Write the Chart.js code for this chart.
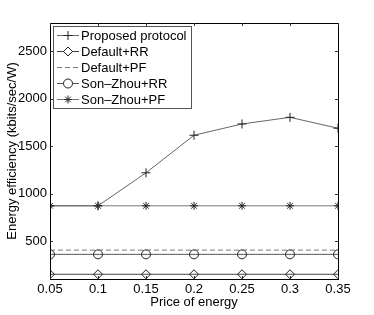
<!DOCTYPE html>
<html>
<head>
<meta charset="utf-8">
<script src="https://cdn.jsdelivr.net/npm/chart.js@4"></script>
<style>
html, body { margin: 0; padding: 0; background: #fff; }
#wrap { width: 374px; height: 315px; }
</style>
</head>
<body>
<div id="wrap"><canvas id="grafico" width="374" height="315"></canvas></div>
<script>
// dados
const precos = [0.05, 0.1, 0.15, 0.2, 0.25, 0.3, 0.35]
const proposto = [872, 872, 1220, 1616, 1735, 1805, 1690]
const defaultRR = [150, 150, 150, 150, 150, 150, 150]
const defaultPF = [405, 405, 405, 405, 405, 405, 405]
const sonZhouRR = [360, 360, 360, 360, 360, 360, 360]
const sonZhouPF = [872, 872, 872, 872, 872, 872, 872]
const yTicks = [500, 1000, 1500, 2000, 2500]

const fonte = "'Liberation Sans', Arial, sans-serif"

function pontos(vals) {
    return precos.map((x, i) => ({ x: x, y: vals[i] }))
}

// linhas, marcadores e caixa de legenda no estilo matlab
const estiloMatlab = {
    id: "estiloMatlab",
    afterDraw(chart) {
        const ctx = chart.ctx
        const a = chart.chartArea
        const xs = chart.scales.x
        const ys = chart.scales.y
        ctx.save()
        ctx.strokeStyle = "#000"
        ctx.lineWidth = 1
        // caixa
        ctx.strokeRect(Math.round(a.left) + 0.5, Math.round(a.top) + 0.5, Math.round(a.right - a.left), Math.round(a.bottom - a.top))
        // ticks para dentro
        ctx.strokeStyle = "#333"
        ctx.beginPath()
        precos.forEach(v => {
            const px = Math.round(xs.getPixelForValue(v)) + 0.5
            ctx.moveTo(px, a.bottom); ctx.lineTo(px, a.bottom - 3)
            ctx.moveTo(px, a.top); ctx.lineTo(px, a.top + 3)
        })
        yTicks.forEach(v => {
            const py = Math.round(ys.getPixelForValue(v)) + 0.5
            ctx.moveTo(a.left, py); ctx.lineTo(a.left + 3, py)
            ctx.moveTo(a.right, py); ctx.lineTo(a.right - 3, py)
        })
        ctx.stroke()

        // legenda
        const bx = 53.5, by = 26.5, bw = 138, bh = 82
        ctx.fillStyle = "#fff"
        ctx.fillRect(bx, by, bw, bh)
        ctx.strokeStyle = "#555"
        ctx.strokeRect(bx, by, bw, bh)
        ctx.font = "13px " + fonte
        ctx.textBaseline = "middle"
        chart.data.datasets.forEach((ds, i) => {
            const y = 35 + i * 16
            ctx.strokeStyle = ds.borderColor
            ctx.lineWidth = 1
            ctx.setLineDash(ds.borderDash || [])
            ctx.beginPath()
            ctx.moveTo(57, y + 0.5)
            ctx.lineTo(79, y + 0.5)
            ctx.stroke()
            ctx.setLineDash([])
            if (ds.pointStyle && ds.pointRadius > 0) {
                ctx.fillStyle = "#fff"
                ctx.strokeStyle = ds.pointBorderColor
                Chart.helpers.drawPoint(ctx, {
                    pointStyle: ds.pointStyle,
                    radius: ds.pointRadius,
                    rotation: 0,
                    borderWidth: 1
                }, 68, y + 0.5)
            }
            ctx.fillStyle = "#000"
            ctx.fillText(ds.label, 81, y + 1)
        })
        ctx.restore()
    }
}

function serie(label, vals, estilo, extra) {
    return Object.assign({
        label: label,
        data: pontos(vals),
        borderColor: "#666",
        borderWidth: 1,
        pointStyle: estilo,
        pointRadius: 4.5,
        pointBorderColor: "#222",
        pointBackgroundColor: "rgba(0,0,0,0)",
        pointBorderWidth: 1,
        tension: 0
    }, extra || {})
}

new Chart(document.getElementById("grafico"), {
    type: "line",
    data: {
        datasets: [
            serie("Proposed protocol", proposto, "cross"),
            serie("Default+RR", defaultRR, "rectRot", { borderColor: "#444" }),
            serie("Default+PF", defaultPF, false, { pointRadius: 0, borderDash: [5, 3], borderColor: "#777" }),
            serie("Son\u2013Zhou+RR", sonZhouRR, "circle", { borderColor: "#555" }),
            serie("Son\u2013Zhou+PF", sonZhouPF, "star", { borderColor: "#777", pointRadius: 4 })
        ]
    },
    plugins: [estiloMatlab],
    options: {
        responsive: false,
        animation: false,
        devicePixelRatio: 1,
        layout: { padding: { top: 23, right: 36, left: 5, bottom: 5 } },
        plugins: {
            legend: { display: false },
            tooltip: { enabled: false }
        },
        scales: {
            x: {
                type: "linear",
                min: 0.05,
                max: 0.35,
                afterBuildTicks: s => { s.ticks = precos.map(v => ({ value: v })) },
                afterFit: s => { s.height = 31 },
                grid: { display: false, drawTicks: false },
                border: { display: false },
                ticks: {
                    color: "#000",
                    padding: 3,
                    maxRotation: 0,
                    font: { family: fonte, size: 13 },
                    callback: v => String(v)
                },
                title: {
                    display: true,
                    text: "Price of energy",
                    color: "#000",
                    padding: { top: -4, bottom: 0 },
                    font: { family: fonte, size: 13 }
                }
            },
            y: {
                min: 100,
                max: 2800,
                afterBuildTicks: s => { s.ticks = yTicks.map(v => ({ value: v })) },
                afterFit: s => { s.width = 45 },
                grid: { display: false, drawTicks: false },
                border: { display: false },
                ticks: {
                    color: "#000",
                    padding: 3,
                    font: { family: fonte, size: 13 },
                    callback: v => String(v)
                },
                title: {
                    display: true,
                    text: "Energy efficiency (kbits/sec/W)",
                    color: "#000",
                    padding: { top: 0, bottom: 0 },
                    font: { family: fonte, size: 13 }
                }
            }
        }
    }
})
</script>
</body>
</html>
